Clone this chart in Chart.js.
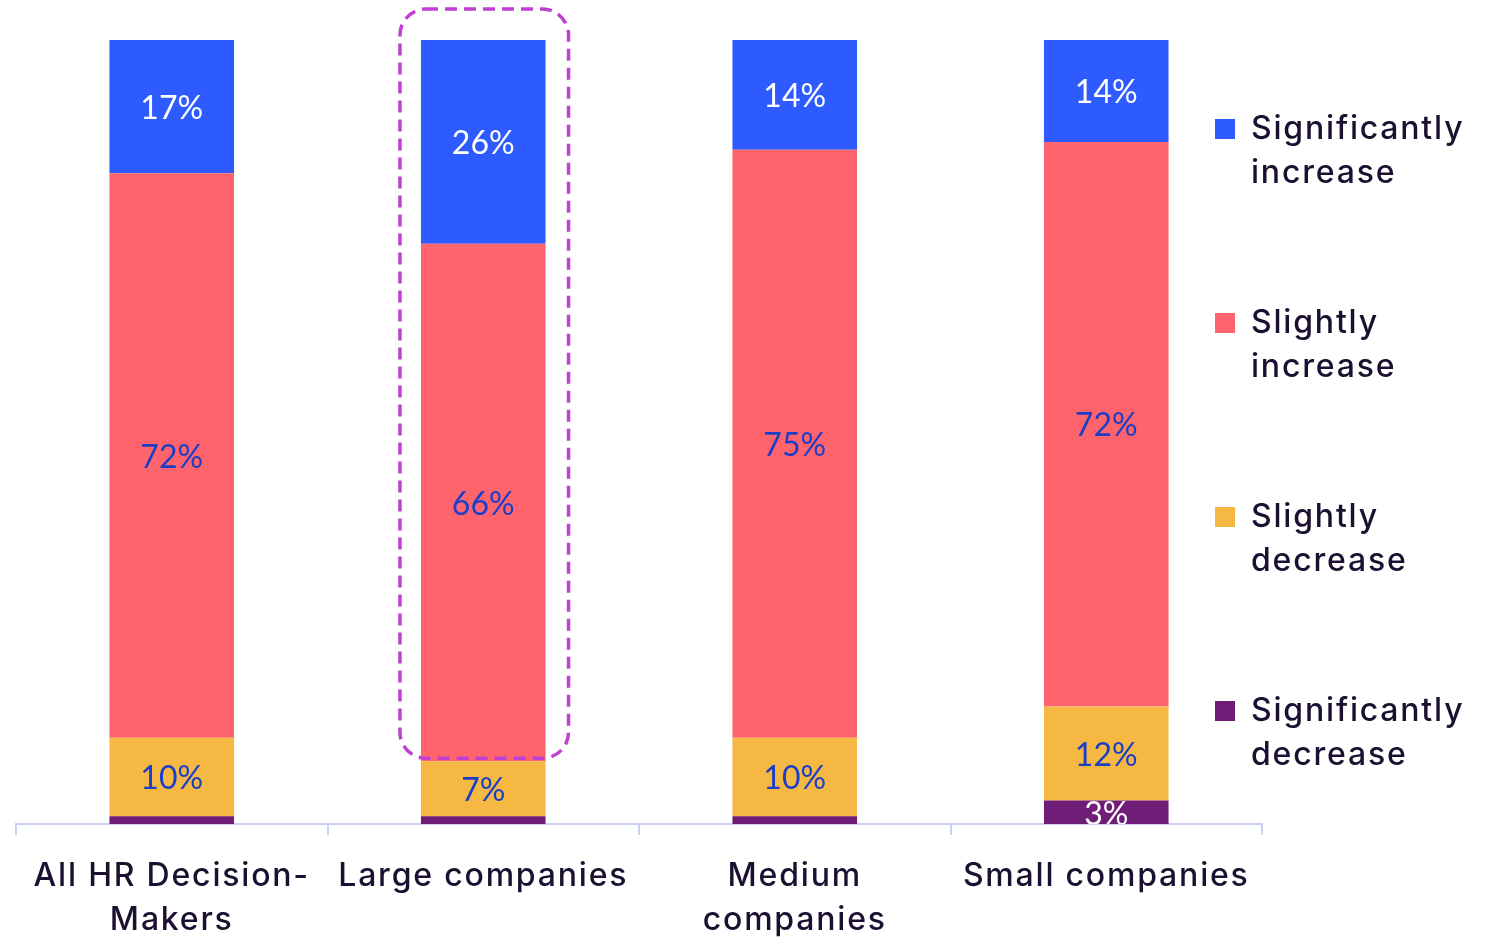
<!DOCTYPE html>
<html>
<head>
<meta charset="utf-8">
<script src="https://cdn.jsdelivr.net/npm/chart.js@4.4.1/dist/chart.umd.min.js"></script>
<style>
  html, body { margin: 0; padding: 0; background: #ffffff; }
  canvas { display: block; }
</style>
</head>
<body>
<canvas id="chart" width="1486" height="938"></canvas>
<script>
// Categories (x axis) and the four answer groups, stacked bottom to top
const categories = [["All HR Decision-", "Makers"], "Large companies", ["Medium", "companies"], "Small companies"];
const seriesNames = ["Significantly decrease", "Slightly decrease", "Slightly increase", "Significantly increase"];
const significantlyDecrease = [1, 1, 1, 3];
const slightlyDecrease = [10, 7, 10, 12];
const slightlyIncrease = [72, 66, 75, 72];
const significantlyIncrease = [17, 26, 14, 14];
const highlightedCategory = 1;

const seriesColors = ["#6f1d77", "#f5b843", "#ff646c", "#2e5bff"];
const valueLabelColors = ["#ffffff", "#1b3ec9", "#1b3ec9", "#ffffff"];
const inkColor = "#1b1030";
const axisColor = "#c9d2f6";
const SPACING = "1.8px";

const seriesValues = [significantlyDecrease, slightlyDecrease, slightlyIncrease, significantlyIncrease];

// Letter spacing for axis and legend text
const textSpacing = {
  id: "textSpacing",
  beforeUpdate(chart) { chart.ctx.letterSpacing = SPACING; },
  beforeDraw(chart) { chart.ctx.letterSpacing = SPACING; }
};

// Legend sits partly over the right end of the plot area
const legendPlacement = {
  id: "legendPlacement",
  afterLayout(chart) {
    const lg = chart.legend;
    const pad = lg.options.labels.padding;
    lg.left = 1215 - pad;
    lg.right = chart.width;
    lg.width = lg.right - lg.left;
    lg.top = 113 - pad;
    lg.bottom = chart.height;
    lg.height = lg.bottom - lg.top;
  }
};

// Percentage labels centred in each segment
const valueLabels = {
  id: "valueLabels",
  afterDatasetsDraw(chart) {
    const { ctx, chartArea } = chart;
    ctx.save();
    ctx.beginPath();
    ctx.rect(chartArea.left, chartArea.top, chartArea.right - chartArea.left, chartArea.bottom - chartArea.top);
    ctx.clip();
    ctx.letterSpacing = "0px";
    ctx.font = "32px Lato";
    ctx.textAlign = "center";
    ctx.textBaseline = "middle";
    chart.data.datasets.forEach((ds, di) => {
      const meta = chart.getDatasetMeta(di);
      meta.data.forEach((bar, i) => {
        const v = ds.data[i];
        if (v < 2) return;
        const p = bar.getProps(["x", "y", "base"], true);
        const top = Math.max(p.y, chartArea.top);
        ctx.fillStyle = valueLabelColors[di];
        ctx.fillText(v + "%", p.x, (top + p.base) / 2 + 2);
      });
    });
    ctx.restore();
  }
};

// Dashed rounded frame around the highlighted bar
const highlightFrame = {
  id: "highlightFrame",
  afterDatasetsDraw(chart) {
    const { ctx, chartArea } = chart;
    const topBar = chart.getDatasetMeta(3).data[highlightedCategory];
    const midBar = chart.getDatasetMeta(2).data[highlightedCategory];
    const p = topBar.getProps(["x", "width"], true);
    const m = midBar.getProps(["base"], true);
    const l = p.x - p.width / 2 - 21;
    const r = p.x + p.width / 2 + 23;
    const t = chartArea.top - 31;
    const b = m.base - 3;
    const rad = 26;
    ctx.save();
    ctx.strokeStyle = "#c040d2";
    ctx.lineWidth = 3.5;
    ctx.setLineDash([12, 7]);
    ctx.beginPath();
    ctx.moveTo(l + rad, t);
    ctx.lineTo(r - rad, t);
    ctx.arcTo(r, t, r, t + rad, rad);
    ctx.lineTo(r, b - rad);
    ctx.arcTo(r, b, r - rad, b, rad);
    ctx.lineTo(l + rad, b);
    ctx.arcTo(l, b, l, b - rad, rad);
    ctx.lineTo(l, t + rad);
    ctx.arcTo(l, t, l + rad, t, rad);
    ctx.closePath();
    ctx.stroke();
    ctx.restore();
  }
};

const baseFont = { family: "Inter", size: 32, weight: 500, lineHeight: 1.375 };

new Chart(document.getElementById("chart"), {
  type: "bar",
  data: {
    labels: categories,
    datasets: seriesNames.map((name, i) => ({
      label: name,
      data: seriesValues[i],
      backgroundColor: seriesColors[i],
      borderWidth: 0,
      categoryPercentage: 1,
      barPercentage: 0.4
    }))
  },
  options: {
    responsive: false,
    animation: false,
    events: [],
    layout: { padding: { top: 40, left: 16, right: 0, bottom: 0 } },
    scales: {
      x: {
        stacked: true,
        grid: {
          display: true,
          drawOnChartArea: false,
          offset: true,
          color: axisColor,
          lineWidth: 2,
          tickLength: 11
        },
        border: { display: true, color: axisColor, width: 2 },
        ticks: {
          color: inkColor,
          font: baseFont,
          padding: 19,
          maxRotation: 0,
          autoSkip: false
        },
        afterFit(scale) { scale.height = 114; }
      },
      y: {
        stacked: true,
        display: false,
        min: 0,
        max: 100
      }
    },
    plugins: {
      tooltip: { enabled: false },
      legend: {
        position: "right",
        align: "start",
        reverse: true,
        maxWidth: 224,
        labels: {
          boxWidth: 20,
          boxHeight: 20,
          padding: 106,
          color: inkColor,
          font: baseFont,
          generateLabels(chart) {
            const items = Chart.defaults.plugins.legend.labels.generateLabels(chart);
            return items.map(it => Object.assign(it, { text: it.text.split(" "), lineWidth: 0 }));
          }
        }
      }
    }
  },
  plugins: [textSpacing, legendPlacement, valueLabels, highlightFrame]
});
</script>
</body>
</html>
